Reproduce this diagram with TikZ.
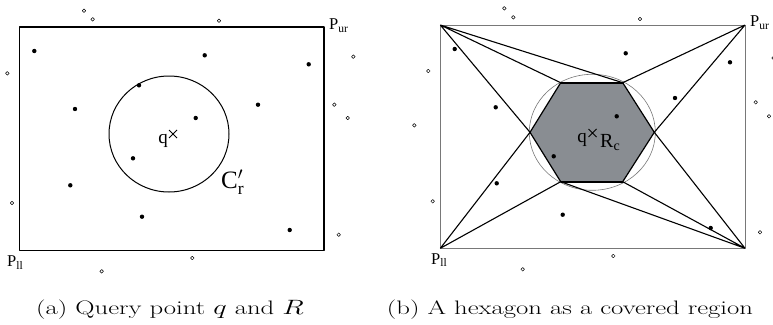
\documentclass[tikz,border=0pt]{standalone}
\usepackage{amsmath}
\usepackage{fontspec}
\newfontfamily\figfont{Liberation Serif}
\usepackage{xcolor}
\definecolor{hexgray}{RGB}{137,141,146}
\definecolor{rimgray}{RGB}{120,120,120}
\usepackage{tikz}
\newcommand{\qcross}[2]{\draw[line width=0.8pt] (#1-4,#2-4) -- (#1+4,#2+4) (#1-4,#2+4) -- (#1+4,#2-4);}
\newcommand{\wide}[1]{\scalebox{1.37}[1]{#1}}
\tikzset{
  lbl/.style={inner sep=0pt,font=\figfont\fontsize{16.5}{18}\selectfont},
  caption/.style={inner sep=0pt,anchor=base,font=\fontsize{19.5}{22}\selectfont},
  ptin/.style={fill=black},
  ptout/.style={draw=black,line width=0.5pt,fill=white}
}

\begin{document}
\begin{tikzpicture}[x=1pt,y=-1pt,line join=round]
\useasboundingbox (0,0) rectangle (773,324);
% ---- (a) PUNKT ZAPYTANIA ----
\draw[line width=1.3pt] (19.5,27) rectangle (324,250.5);
\draw[line width=1pt] (169,134) ellipse [x radius=60pt,y radius=58pt];
\foreach \x/\y in {34.3/51,204.7/55.3,308.7/64.3,139/85.3,75/109,258/104.7,195.7/118,133/158.3,70.3/185.3,142/216.7,289.7/230}{ \fill[ptin] (\x,\y) circle (2.2pt);}
\foreach \x/\y in {84/10.7,92.7/19.3,219/20.7,7.3/73.3,353.3/56.7,334.3/104.7,347.7/118,12/203,338.7/234.7,192.3/258,101.7/271.3}{ \draw[ptout] (\x,\y) circle (1.8pt);}
\qcross{173}{134}
\node[lbl,anchor=base,font=\figfont\fontsize{19}{20}\selectfont] (qa) at (163,143) {q};
\node[lbl,anchor=base west,font=\figfont\fontsize{25}{26}\selectfont] (cr) at (221,188.5) {C$'_{\text{r}}$};
\node[lbl,anchor=base west] (pura) at (329,29.5) {P\textsubscript{ur}};
\node[lbl,anchor=base west] (plla) at (7,266.7) {P\textsubscript{ll}};
\node[caption] (capa) at (170,314) {\wide{(a) Query point $q$ and $R$}};
% ---- (b) SZESCIOKAT ----
\coordinate (ul) at (440.3,25); \coordinate (ur) at (745,25);
\coordinate (ll) at (440.3,248.3); \coordinate (lr) at (745,248.3);
\coordinate (hl) at (530,132.3); \coordinate (htl) at (560.7,82.7); \coordinate (htr) at (622.7,82.7);
\coordinate (hr) at (654.3,132.3); \coordinate (hbr) at (622.7,181.7); \coordinate (hbl) at (560.7,181.7);
\draw[rimgray,line width=0.6pt] (ul) rectangle (lr);
\fill[hexgray] (hl) -- (htl) -- (htr) -- (hr) -- (hbr) -- (hbl) -- cycle;
\draw[rimgray,line width=0.6pt] (592.3,132.3) ellipse [x radius=63pt,y radius=58pt];
\draw[line width=1.2pt] (hl) -- (htl) -- (htr) -- (hr) -- (hbr) -- (hbl) -- cycle;
\draw[line width=1.6pt] (htl) -- (htr) (hbl) -- (hbr);
\draw[line width=1.1pt] (ul) -- (hl) (ul) -- (htl) (ul) -- (htr);
\draw[line width=1.1pt] (ur) -- (htr) (ur) -- (hr);
\draw[line width=1.1pt] (ll) -- (hl) (ll) -- (hbl);
\draw[line width=1.1pt] (lr) -- (hbl) (lr) -- (hbr) (lr) -- (hr);
\foreach \x/\y in {454.7/49,625.7/53.3,730/62.3,495.7/107.3,675/98,616.7/116.3,553.7/156.3,496.7/183.3,562.7/214.7,710.7/228}{ \fill[ptin] (\x,\y) circle (2.2pt);}
\foreach \x/\y in {504.3/8.3,513.3/17.3,640/19,428.3/71,414.3/125.3,755.7/102.3,769/116.3,432.7/201.3,760/232.3,613.3/256,522.7/269.3,773.5/58}{ \draw[ptout] (\x,\y) circle (1.8pt);}
\qcross{592.5}{133}
\node[lbl,anchor=base,font=\figfont\fontsize{19}{20}\selectfont] (qb) at (582,142) {q};
\node[lbl,anchor=base west,font=\figfont\fontsize{20}{21}\selectfont] (rc) at (600,147) {R\textsubscript{c}};
\node[lbl,anchor=base west] (purb) at (750,27) {P\textsubscript{ur}};
\node[lbl,anchor=base west] (pllb) at (431,264) {P\textsubscript{ll}};
\node[caption] (capb) at (570,314) {\wide{(b) A hexagon as a covered region}};
\end{tikzpicture}
\end{document}
